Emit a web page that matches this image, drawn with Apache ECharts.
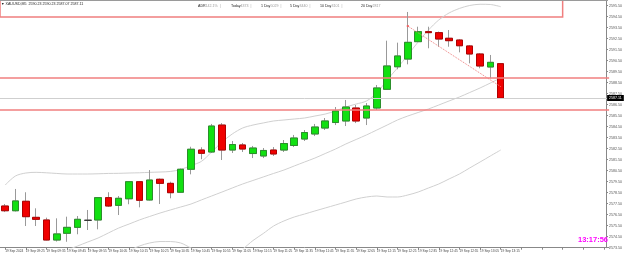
<!DOCTYPE html>
<html><head><meta charset="utf-8">
<script src="https://cdn.jsdelivr.net/npm/echarts@6/dist/echarts.min.js"></script>
<style>html,body{margin:0;padding:0;background:#fff}#c{width:625px;height:255px}</style>
</head><body><div id="c"></div>
<script>
// 5-minute candles, 19 Sep 2024
const categories = ["09:15","09:20","09:25","09:30","09:35","09:40","09:45","09:50","09:55",
"10:00","10:05","10:10","10:15","10:20","10:25","10:30","10:35","10:40","10:45","10:50","10:55",
"11:00","11:05","11:10","11:15","11:20","11:25","11:30","11:35","11:40","11:45","11:50","11:55",
"12:00","12:05","12:10","12:15","12:20","12:25","12:30","12:35","12:40","12:45","12:50","12:55",
"13:00","13:05","13:10","13:15"];
// [open, close, low, high]
const ohlc = [
[2577.29,2576.86,2576.74,2577.47],[2576.86,2577.75,2576.79,2578.84],[2577.72,2576.32,2575.47,2578.54],
[2576.26,2576.08,2575.47,2577.08],[2576.02,2574.20,2574.16,2576.23],[2574.20,2574.75,2574.06,2576.17],
[2574.81,2575.35,2574.04,2576.32],[2575.35,2576.08,2574.72,2576.38],[2575.99,2575.99,2575.11,2576.93],
[2576.02,2578.05,2575.17,2578.11],[2578.05,2577.29,2577.20,2578.54],[2577.35,2577.99,2576.47,2578.20],
[2577.95,2579.50,2577.45,2579.56],[2579.50,2577.81,2577.17,2579.56],[2577.84,2579.65,2577.79,2580.56],
[2579.72,2579.35,2577.47,2579.79],[2579.35,2578.50,2577.99,2579.50],[2578.54,2580.63,2578.47,2580.70],
[2580.63,2582.45,2580.17,2582.68],[2582.38,2582.08,2581.54,2582.63],[2582.20,2584.56,2582.11,2584.75],
[2584.65,2582.38,2581.47,2584.83],[2582.38,2582.88,2582.11,2583.20],[2582.84,2582.47,2582.20,2583.02],
[2582.06,2582.56,2581.65,2582.75],[2581.84,2582.34,2581.65,2582.56],[2582.38,2582.02,2581.84,2582.65],
[2582.38,2582.97,2582.20,2583.29],[2582.79,2583.47,2582.65,2583.75],[2583.38,2583.97,2583.20,2584.20],
[2583.84,2584.47,2583.65,2584.75],[2584.38,2585.02,2584.20,2585.29],[2584.88,2585.93,2584.65,2586.29],
[2585.02,2586.29,2584.56,2586.93],[2586.20,2585.02,2584.83,2586.47],[2585.29,2586.38,2584.65,2586.65],
[2586.20,2588.02,2586.02,2588.29],[2587.90,2590.02,2587.84,2592.32],[2589.95,2590.93,2589.72,2592.14],
[2590.65,2592.17,2590.17,2594.93],[2592.23,2593.14,2592.20,2593.59],[2593.14,2593.05,2591.63,2593.59],
[2593.05,2592.47,2591.77,2593.15],[2592.54,2592.32,2591.77,2593.29],[2592.38,2591.86,2591.26,2592.47],
[2591.84,2591.11,2590.26,2591.93],[2591.11,2590.02,2589.81,2591.20],[2589.93,2590.35,2588.90,2591.02],
[2590.23,2587.11,2587.07,2590.23]];
const bbUpper = [2579.20,2580.02,2580.29,2580.35,2580.31,2580.25,2580.20,2580.20,2580.20,2580.22,
2580.25,2580.26,2580.29,2580.31,2580.35,2580.38,2580.43,2580.61,2580.97,2581.34,
2582.20,2583.11,2583.84,2584.38,2584.65,2584.84,2585.02,2585.11,2585.20,2585.29,
2585.47,2585.65,2585.93,2586.29,2586.56,2586.84,2587.56,2588.75,2589.84,2591.02,
2592.20,2593.29,2594.20,2594.84,2595.25,2595.52,2595.63,2595.61,2595.41];
const bbMiddle = [null,null,null,null,null,2572.93,2573.29,2573.65,2574.02,2574.38,
2574.84,2575.29,2575.65,2576.02,2576.34,2576.65,2576.93,2577.20,2577.47,2577.84,
2578.20,2578.56,2578.93,2579.29,2579.61,2579.93,2580.25,2580.56,2580.93,2581.29,
2581.65,2582.06,2582.47,2582.93,2583.34,2583.75,2584.20,2584.65,2585.11,2585.47,
2585.79,2586.11,2586.47,2586.84,2587.20,2587.61,2588.02,2588.47,2588.93];
const bbLower = [null,null,null,null,null,null,null,null,null,null,
null,2572.38,2573.20,2573.65,2573.93,2574.06,2574.06,2573.93,2573.47,2573.02,
2572.65,2572.56,2572.84,2573.38,2574.15,2574.79,2575.47,2575.93,2576.29,2576.56,
2576.84,2577.11,2577.38,2577.65,2577.93,2578.11,2578.20,2578.11,2578.11,2578.29,
2578.56,2578.93,2579.29,2579.75,2580.20,2580.75,2581.29,2581.84,2582.38];
const levelLines = [2588.99, 2586.02];
const boxBottom = 2594.47;
const bidPrice = 2587.11;
const trendLine = [[39, 2593.65], [47.5, 2588.14]];
const yTicks = {min: 2573.5, max: 2596, interval: 1};
const headerText = "\u25BC XAUUSD,M5  2590.23 2590.23 2587.07 2587.11";
const statLabels = ["ADR", "Today", "1 Day", "5 Day", "10 Day", "20 Day"];
const statValues = ["142.1%", "4373", "5029", "3440", "3101", "2817"];
const clockText = "13:17:56";

const padCount = 10;
const axisCats = categories.concat(Array.from({length: padCount}, (_, k) => "pad" + k));
const bodies = ohlc.map(d => [d[0], d[1], Math.min(d[0], d[1]), Math.max(d[0], d[1])]);

const chart = echarts.init(document.getElementById('c'), null, {renderer: 'canvas'});
const statX = [198, 231, 261, 290, 320, 361];
const graphics = [
  {type: 'line', shape: {x1: 0, y1: 0.5, x2: 608, y2: 0.5}, style: {stroke: '#9a9a9a', lineWidth: 1}, z: 100},
  {type: 'text', left: 1, top: 2, style: {text: headerText, fontSize: 3.6, fill: '#222', fontFamily: 'Arial'}, z: 100},
  {type: 'text', left: 578, top: 236, style: {text: clockText, fontSize: 7.5, fontWeight: 'bold', fill: '#ff00ff', fontFamily: 'Arial'}, z: 100}
];
statLabels.forEach((s, k) => {
  graphics.push({type: 'text', left: statX[k], top: 4, z: 100,
    style: {rich: {a: {fill: '#222', fontSize: 3.6, fontFamily: 'Arial'}, b: {fill: '#999', fontSize: 3.6, fontFamily: 'Arial'}},
      text: '{a|' + s + '}{b|' + statValues[k] + (k < statLabels.length - 1 ? '  |' : '') + '}'}});
});

const bandStyle = {type: 'line', symbol: 'none', smooth: 0.3, clip: true, lineStyle: {color: '#d0d0d0', width: 1}, z: 1, silent: true};

chart.setOption({
  animation: false,
  backgroundColor: '#ffffff',
  grid: {left: -3.5, right: 13.9, top: 0.2, bottom: 7.3, containLabel: false},
  xAxis: {
    type: 'category', data: axisCats, boundaryGap: true,
    axisLine: {lineStyle: {color: '#888', width: 1}},
    axisTick: {show: true, interval: 1, alignWithLabel: true, length: 2, lineStyle: {color: '#888'}},
    axisLabel: {interval: 1, align: 'left', fontSize: 3.2, color: '#444', margin: 1.5, fontFamily: 'Arial',
      formatter: (v, i) => i >= categories.length ? '' : (i === 0 ? '19 Sep 2024' : '19 Sep ' + v)},
    splitLine: {show: false}
  },
  yAxis: {
    type: 'value', position: 'right', offset: -3.1, scale: true,
    min: yTicks.min, max: yTicks.max, interval: yTicks.interval,
    axisLine: {show: true, lineStyle: {color: '#888', width: 1}},
    axisTick: {show: true, length: 2, lineStyle: {color: '#888'}},
    axisLabel: {fontSize: 3.6, color: '#555', margin: 3, fontFamily: 'Arial',
      formatter: v => Math.abs(((v - 0.5) % 1)) < 1e-6 ? v.toFixed(2) : ''},
    splitLine: {show: false}
  },
  series: [
    Object.assign({}, bandStyle, {name: 'upper', data: bbUpper}),
    Object.assign({}, bandStyle, {name: 'middle', data: bbMiddle, connectNulls: false}),
    Object.assign({}, bandStyle, {name: 'lower', data: bbLower}),
    {
      name: 'wicks', type: 'candlestick', data: ohlc, barWidth: 7, z: 2,
      itemStyle: {color: '#999', color0: '#999', borderColor: '#999', borderColor0: '#999', borderColorDoji: '#999', borderWidth: 1}
    },
    {
      name: 'bodies', type: 'candlestick', data: bodies, barWidth: 7, z: 3,
      itemStyle: {color: '#11e011', color0: '#f00000', borderColor: '#2b8f2b', borderColor0: '#b00000', borderColorDoji: '#333', borderWidth: 1},
      markArea: {
        silent: true,
        itemStyle: {color: 'rgba(0,0,0,0)', borderColor: '#f07f7f', borderWidth: 1.5},
        data: [[{xAxis: -Infinity, yAxis: boxBottom}, {xAxis: 54, yAxis: Infinity}]]
      }
    },
    {
      name: 'trend', type: 'line', z: 4, symbol: 'none',
      data: [{value: trendLine[0], symbol: 'rect', symbolSize: 2}, {value: trendLine[1]}],
      itemStyle: {color: '#f06060'},
      lineStyle: {color: '#f08080', width: 1, type: 'dotted'}
    },
    {
      name: 'levels', type: 'line', data: [], z: 6,
      markLine: {
        silent: true, symbol: 'none', animation: false,
        data: [
          {yAxis: levelLines[0], lineStyle: {color: '#f07f7f', width: 1.5, type: 'solid'}, label: {show: false}},
          {yAxis: levelLines[1], lineStyle: {color: '#f07f7f', width: 1.5, type: 'solid'}, label: {show: false}},
          {yAxis: bidPrice, lineStyle: {color: '#cfcfcf', width: 1, type: 'solid'},
            label: {show: true, position: 'end', distance: -2, formatter: bidPrice.toFixed(2), color: '#fff', backgroundColor: '#000', fontSize: 3.6, padding: [1, 2], fontFamily: 'Arial'}}
        ]
      }
    }
  ],
  graphic: graphics
});
</script></body></html>
